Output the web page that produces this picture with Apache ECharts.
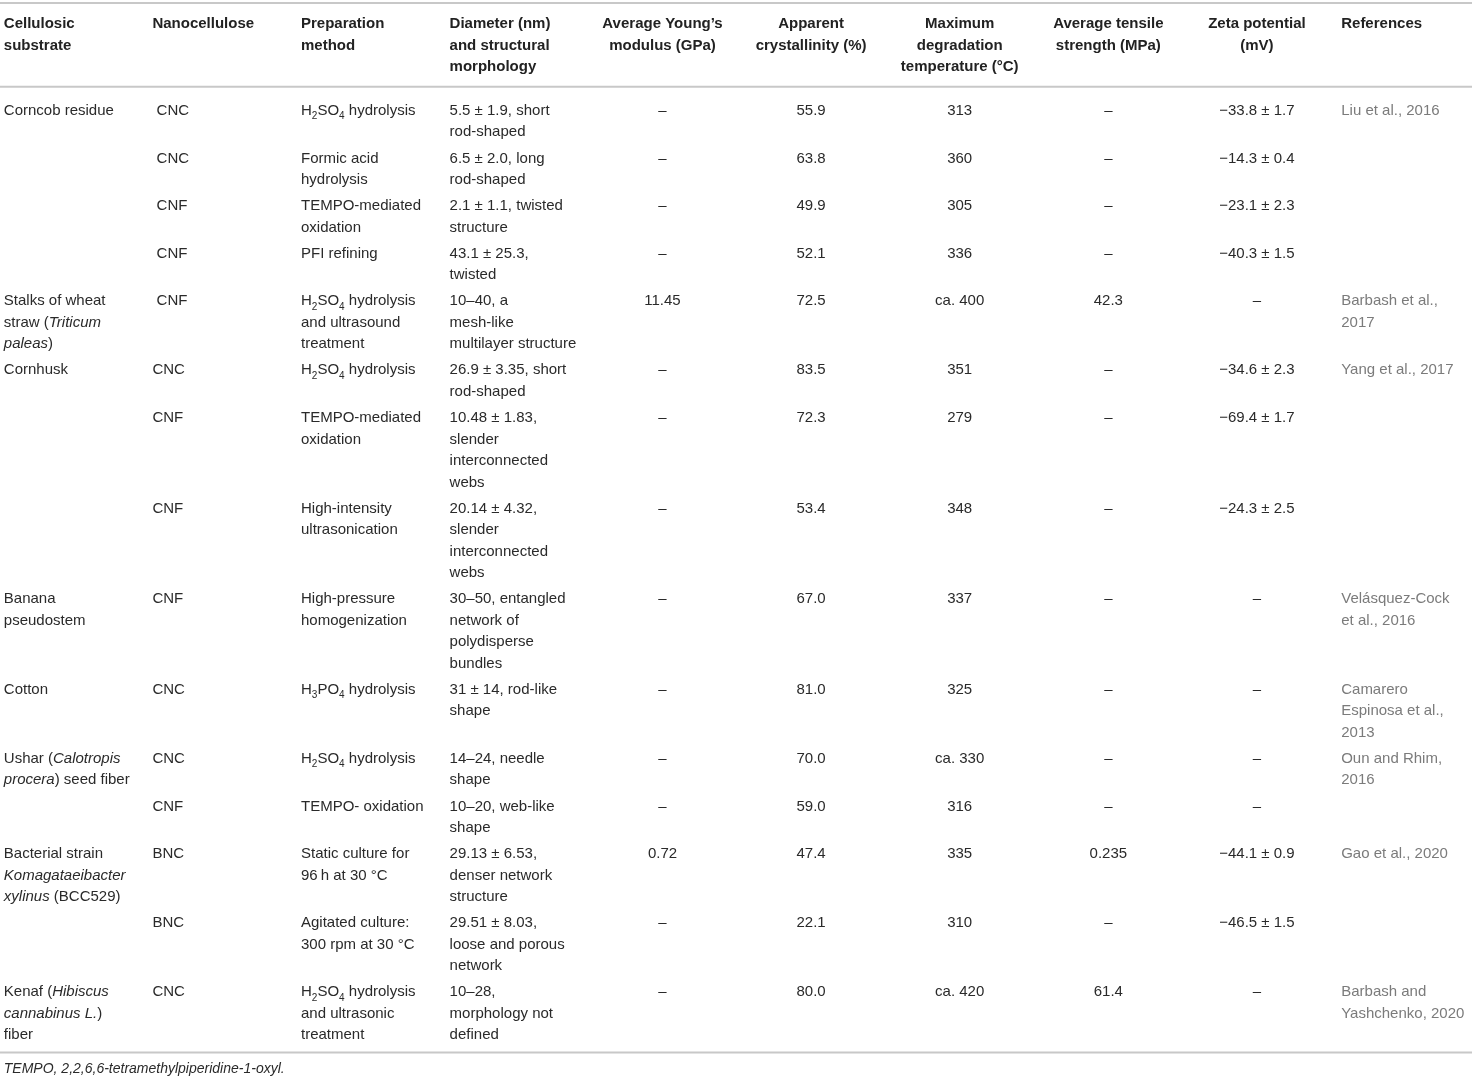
<!DOCTYPE html>
<html>
<head>
<meta charset="utf-8">
<script src="https://cdn.jsdelivr.net/npm/echarts@6/dist/echarts.min.js"></script>
<style>
html,body{margin:0;padding:0;background:#fff;}
#chart{width:1472px;height:1081px;}
</style>
</head>
<body>
<div id="chart"></div>
<script>
// ---------------- DATA ----------------
const headers = [
  'Cellulosic\nsubstrate',
  'Nanocellulose',
  'Preparation\nmethod',
  'Diameter (nm)\nand structural\nmorphology',
  'Average Young\u2019s\nmodulus (GPa)',
  'Apparent\ncrystallinity (%)',
  'Maximum\ndegradation\ntemperature (\u00b0C)',
  'Average tensile\nstrength (MPa)',
  'Zeta potential\n(mV)',
  'References'
];

const substrate = [
  'Corncob residue', '', '', '',
  'Stalks of wheat\nstraw ({i|Triticum}\n{i|paleas})',
  'Cornhusk', '', '',
  'Banana\npseudostem',
  'Cotton',
  'Ushar ({i|Calotropis}\n{i|procera}) seed fiber', '',
  'Bacterial strain\n{i|Komagataeibacter}\n{i|xylinus} (BCC529)', '',
  'Kenaf ({i|Hibiscus}\n{i|cannabinus L.})\nfiber'
];

const nanocellulose = [
  ' CNC', ' CNC', ' CNF', ' CNF', ' CNF',
  'CNC', 'CNF', 'CNF', 'CNF', 'CNC', 'CNC', 'CNF', 'BNC', 'BNC', 'CNC'
];

const method = [
  'H{s|2}SO{s|4} hydrolysis',
  'Formic acid\nhydrolysis',
  'TEMPO-mediated\noxidation',
  'PFI refining',
  'H{s|2}SO{s|4} hydrolysis\nand ultrasound\ntreatment',
  'H{s|2}SO{s|4} hydrolysis',
  'TEMPO-mediated\noxidation',
  'High-intensity\nultrasonication',
  'High-pressure\nhomogenization',
  'H{s|3}PO{s|4} hydrolysis',
  'H{s|2}SO{s|4} hydrolysis',
  'TEMPO- oxidation',
  'Static culture for\n96\u2009h at 30 \u00b0C',
  'Agitated culture:\n300 rpm at 30 \u00b0C',
  'H{s|2}SO{s|4} hydrolysis\nand ultrasonic\ntreatment'
];

const diameter = [
  '5.5 \u00b1 1.9, short\nrod-shaped',
  '6.5 \u00b1 2.0, long\nrod-shaped',
  '2.1 \u00b1 1.1, twisted\nstructure',
  '43.1 \u00b1 25.3,\ntwisted',
  '10\u201340, a\nmesh-like\nmultilayer structure',
  '26.9 \u00b1 3.35, short\nrod-shaped',
  '10.48 \u00b1 1.83,\nslender\ninterconnected\nwebs',
  '20.14 \u00b1 4.32,\nslender\ninterconnected\nwebs',
  '30\u201350, entangled\nnetwork of\npolydisperse\nbundles',
  '31 \u00b1 14, rod-like\nshape',
  '14\u201324, needle\nshape',
  '10\u201320, web-like\nshape',
  '29.13 \u00b1 6.53,\ndenser network\nstructure',
  '29.51 \u00b1 8.03,\nloose and porous\nnetwork',
  '10\u201328,\nmorphology not\ndefined'
];

const youngModulus = ['\u2013','\u2013','\u2013','\u2013','11.45','\u2013','\u2013','\u2013','\u2013','\u2013','\u2013','\u2013','0.72','\u2013','\u2013'];
const crystallinity = ['55.9','63.8','49.9','52.1','72.5','83.5','72.3','53.4','67.0','81.0','70.0','59.0','47.4','22.1','80.0'];
const degradationTemp = ['313','360','305','336','ca. 400','351','279','348','337','325','ca. 330','316','335','310','ca. 420'];
const tensileStrength = ['\u2013','\u2013','\u2013','\u2013','42.3','\u2013','\u2013','\u2013','\u2013','\u2013','\u2013','\u2013','0.235','\u2013','61.4'];
const zetaPotential = [
  '\u221233.8 \u00b1 1.7','\u221214.3 \u00b1 0.4','\u221223.1 \u00b1 2.3','\u221240.3 \u00b1 1.5','\u2013',
  '\u221234.6 \u00b1 2.3','\u221269.4 \u00b1 1.7','\u221224.3 \u00b1 2.5','\u2013','\u2013',
  '\u2013','\u2013','\u221244.1 \u00b1 0.9','\u221246.5 \u00b1 1.5','\u2013'
];
const references = [
  'Liu et al., 2016', '', '', '',
  'Barbash et al.,\n2017',
  'Yang et al., 2017', '', '',
  'Vel\u00e1squez-Cock\net al., 2016',
  'Camarero\nEspinosa et al.,\n2013',
  'Oun and Rhim,\n2016', '',
  'Gao et al., 2020', '',
  'Barbash and\nYashchenko, 2020'
];

const footnote = 'TEMPO, 2,2,6,6-tetramethylpiperidine-1-oxyl.';

// ---------------- LAYOUT ----------------
const columns = [substrate, nanocellulose, method, diameter, youngModulus,
  crystallinity, degradationTemp, tensileStrength, zetaPotential, references];
const centeredCols = [4, 5, 6, 7, 8];
const FONT = '"Liberation Sans", Arial, Helvetica, sans-serif';
const FS = 15;
const LINE = 21.5;
const GAP = 4.6;
const PAD = 10;
const HEADER_FIRST = 24;
const BODY_FIRST = 110.8;
const W = 1472, H = 1081;
const TEXT = '#2a2a2a';

function nLines(t) { return t.split('\n').length; }

// row first-line centres computed from line counts
const rowY = [];
let yCur = BODY_FIRST;
const nRows = substrate.length;
for (let r = 0; r < nRows; r++) {
  rowY.push(yCur);
  let m = 1;
  columns.forEach(c => { m = Math.max(m, nLines(c[r])); });
  yCur += m * LINE + GAP;
}
const lastRowEnd = yCur - GAP - LINE / 2;
const headerRuleY = HEADER_FIRST + 2 * LINE + LINE / 2 + 9;
const ruleYs = [3, headerRuleY, lastRowEnd + 6.5];

const cellTexts = [];
const cellData = [];
headers.forEach((h, c) => {
  cellTexts.push({ text: h, bold: true, color: '#222' });
  cellData.push([c, HEADER_FIRST]);
});
columns.forEach((col, c) => {
  col.forEach((t, r) => {
    if (!t) return;
    cellTexts.push({ text: t, bold: false, color: c === 9 ? '#7b7b7b' : TEXT });
    cellData.push([c, rowY[r]]);
  });
});

const RICH = {
  i: { fontStyle: 'italic', fontSize: FS, fontFamily: FONT },
  s: { fontSize: 10, fontFamily: FONT, lineHeight: 13, verticalAlign: 'bottom' }
};

const chart = echarts.init(document.getElementById('chart'), null, { renderer: 'canvas' });
chart.setOption({
  animation: false,
  backgroundColor: '#fff',
  grid: { left: 0, right: 0, top: 0, bottom: 0, containLabel: false },
  xAxis: { type: 'value', min: -0.4583, max: 9.4475, show: false },
  yAxis: { type: 'value', min: 0, max: H, inverse: true, show: false },
  series: [
    {
      type: 'custom',
      name: 'rules',
      silent: true,
      data: ruleYs.map(y => [0, y]),
      renderItem: function (params, api) {
        const p = api.coord([0, api.value(1)]);
        return {
          type: 'line',
          shape: { x1: 0, y1: p[1], x2: W, y2: p[1] },
          style: { stroke: '#c8c8c8', lineWidth: 2 }
        };
      }
    },
    {
      type: 'custom',
      name: 'cells',
      silent: true,
      data: cellData,
      renderItem: function (params, api) {
        const c = api.value(0);
        const item = cellTexts[params.dataIndex];
        const p = api.coord([c, api.value(1)]);
        const band = api.size([1, 0])[0];
        const centered = centeredCols.indexOf(c) >= 0;
        const x = centered ? p[0] : p[0] - band / 2 + PAD;
        const rich = {
          i: Object.assign({}, RICH.i, { fill: item.color, fontWeight: item.bold ? 'bold' : 'normal' }),
          s: Object.assign({}, RICH.s, { fill: item.color })
        };
        return {
          type: 'text',
          style: {
            text: item.text,
            x: x,
            y: p[1] - LINE / 2,
            align: centered ? 'center' : 'left',
            verticalAlign: 'top',
            fontSize: FS,
            fontFamily: FONT,
            fontWeight: item.bold ? 'bold' : 'normal',
            fill: item.color,
            lineHeight: LINE,
            rich: rich
          }
        };
      }
    },
    {
      type: 'custom',
      name: 'footnote',
      silent: true,
      data: [[0, lastRowEnd + 23]],
      renderItem: function (params, api) {
        const p = api.coord([0, api.value(1)]);
        const band = api.size([1, 0])[0];
        return {
          type: 'text',
          style: {
            text: footnote,
            x: p[0] - band / 2 + PAD,
            y: p[1],
            align: 'left',
            verticalAlign: 'middle',
            fontSize: 14,
            fontStyle: 'italic',
            fontFamily: FONT,
            fill: TEXT
          }
        };
      }
    }
  ]
});
</script>
</body>
</html>
